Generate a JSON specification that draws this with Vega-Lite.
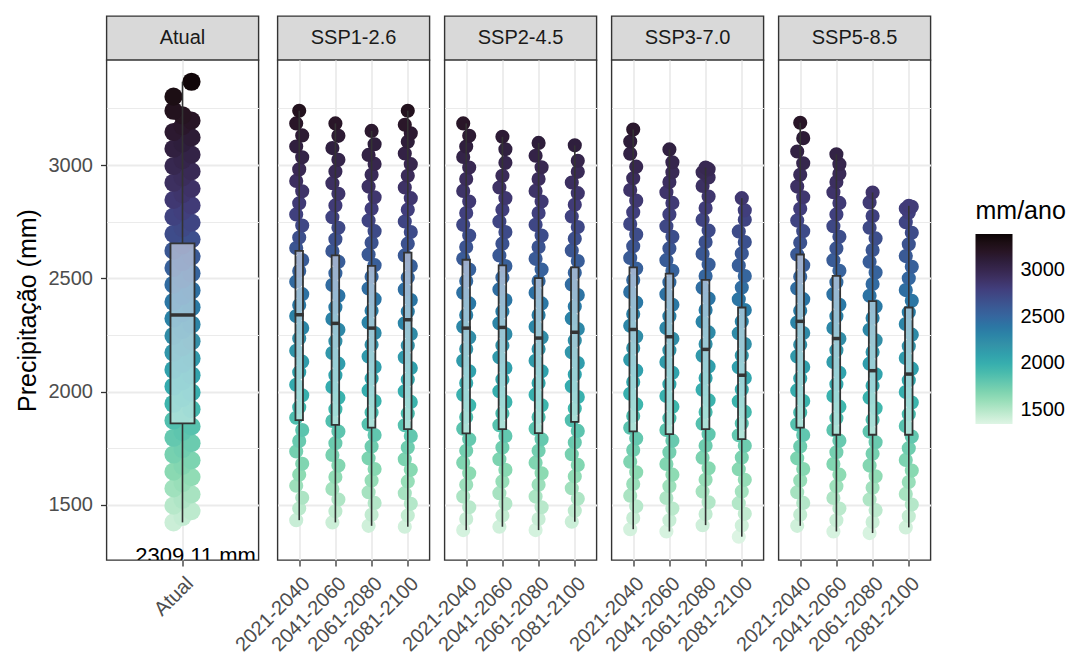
{
  "$schema": "https://vega.github.io/schema/vega-lite/v6.json",
  "background": "white",
  "padding": {"left": 13.5, "top": 15, "right": 2, "bottom": 0},
  "config": {
    "font": "Liberation Sans",
    "view": {"stroke": "#333333", "strokeWidth": 1.4, "fill": "white"}
  },
  "datasets": {
    "strips": [
      {"s": "Atual"}, {"s": "SSP1-2.6"}, {"s": "SSP2-4.5"}, {"s": "SSP3-7.0"}, {"s": "SSP5-8.5"}
    ],
    "box": [
      {"s": "Atual", "p": "Atual", "lo": 1422, "q1": 1859, "med": 2338, "q3": 2654, "hi": 3368},
      {"s": "SSP1-2.6", "p": "2021-2040", "lo": 1432, "q1": 1874, "med": 2339, "q3": 2621, "hi": 3240},
      {"s": "SSP1-2.6", "p": "2041-2060", "lo": 1422, "q1": 1853, "med": 2301, "q3": 2601, "hi": 3184},
      {"s": "SSP1-2.6", "p": "2061-2080", "lo": 1407, "q1": 1841, "med": 2280, "q3": 2555, "hi": 3151},
      {"s": "SSP1-2.6", "p": "2081-2100", "lo": 1403, "q1": 1834, "med": 2317, "q3": 2613, "hi": 3240},
      {"s": "SSP2-4.5", "p": "2021-2040", "lo": 1388, "q1": 1815, "med": 2280, "q3": 2582, "hi": 3184},
      {"s": "SSP2-4.5", "p": "2041-2060", "lo": 1403, "q1": 1834, "med": 2283, "q3": 2557, "hi": 3125},
      {"s": "SSP2-4.5", "p": "2061-2080", "lo": 1388, "q1": 1816, "med": 2236, "q3": 2501, "hi": 3098},
      {"s": "SSP2-4.5", "p": "2081-2100", "lo": 1425, "q1": 1866, "med": 2262, "q3": 2548, "hi": 3087},
      {"s": "SSP3-7.0", "p": "2021-2040", "lo": 1392, "q1": 1824, "med": 2274, "q3": 2548, "hi": 3157},
      {"s": "SSP3-7.0", "p": "2041-2060", "lo": 1382, "q1": 1812, "med": 2242, "q3": 2521, "hi": 3069},
      {"s": "SSP3-7.0", "p": "2061-2080", "lo": 1410, "q1": 1834, "med": 2186, "q3": 2493, "hi": 2989},
      {"s": "SSP3-7.0", "p": "2081-2100", "lo": 1359, "q1": 1790, "med": 2072, "q3": 2371, "hi": 2854},
      {"s": "SSP5-8.5", "p": "2021-2040", "lo": 1407, "q1": 1841, "med": 2310, "q3": 2605, "hi": 3187},
      {"s": "SSP5-8.5", "p": "2041-2060", "lo": 1382, "q1": 1809, "med": 2234, "q3": 2511, "hi": 3048},
      {"s": "SSP5-8.5", "p": "2061-2080", "lo": 1375, "q1": 1809, "med": 2092, "q3": 2399, "hi": 2879},
      {"s": "SSP5-8.5", "p": "2081-2100", "lo": 1400, "q1": 1809, "med": 2077, "q3": 2371, "hi": 2820}
    ],
    "atual": [
      {"p":"Atual","k":0,"v":1422},{"p":"Atual","k":1,"v":1446},{"p":"Atual","k":2,"v":1472},{"p":"Atual","k":0,"v":1496},{"p":"Atual","k":1,"v":1522},{"p":"Atual","k":2,"v":1546},{"p":"Atual","k":0,"v":1572},{"p":"Atual","k":1,"v":1596},{"p":"Atual","k":2,"v":1622},{"p":"Atual","k":0,"v":1646},{"p":"Atual","k":1,"v":1672},{"p":"Atual","k":2,"v":1696},{"p":"Atual","k":0,"v":1722},{"p":"Atual","k":1,"v":1746},{"p":"Atual","k":2,"v":1772},{"p":"Atual","k":0,"v":1796},{"p":"Atual","k":1,"v":1822},{"p":"Atual","k":2,"v":1846},{"p":"Atual","k":0,"v":1872},{"p":"Atual","k":1,"v":1896},{"p":"Atual","k":2,"v":1922},{"p":"Atual","k":0,"v":1946},{"p":"Atual","k":1,"v":1972},{"p":"Atual","k":2,"v":1996},{"p":"Atual","k":0,"v":2022},{"p":"Atual","k":1,"v":2046},{"p":"Atual","k":2,"v":2072},{"p":"Atual","k":0,"v":2096},{"p":"Atual","k":1,"v":2122},{"p":"Atual","k":2,"v":2146},{"p":"Atual","k":0,"v":2172},{"p":"Atual","k":1,"v":2196},{"p":"Atual","k":2,"v":2222},{"p":"Atual","k":0,"v":2246},{"p":"Atual","k":1,"v":2272},{"p":"Atual","k":2,"v":2296},{"p":"Atual","k":0,"v":2322},{"p":"Atual","k":1,"v":2346},{"p":"Atual","k":2,"v":2372},{"p":"Atual","k":0,"v":2396},{"p":"Atual","k":1,"v":2422},{"p":"Atual","k":2,"v":2446},{"p":"Atual","k":0,"v":2472},{"p":"Atual","k":1,"v":2496},{"p":"Atual","k":2,"v":2522},{"p":"Atual","k":0,"v":2546},{"p":"Atual","k":1,"v":2572},{"p":"Atual","k":2,"v":2596},{"p":"Atual","k":0,"v":2622},{"p":"Atual","k":1,"v":2646},{"p":"Atual","k":2,"v":2672},{"p":"Atual","k":0,"v":2696},{"p":"Atual","k":1,"v":2722},{"p":"Atual","k":2,"v":2746},{"p":"Atual","k":0,"v":2772},{"p":"Atual","k":1,"v":2796},{"p":"Atual","k":2,"v":2822},{"p":"Atual","k":0,"v":2846},{"p":"Atual","k":1,"v":2872},{"p":"Atual","k":2,"v":2896},{"p":"Atual","k":0,"v":2922},{"p":"Atual","k":1,"v":2946},{"p":"Atual","k":2,"v":2972},{"p":"Atual","k":0,"v":2996},{"p":"Atual","k":1,"v":3022},{"p":"Atual","k":2,"v":3046},{"p":"Atual","k":0,"v":3072},{"p":"Atual","k":1,"v":3096},{"p":"Atual","k":2,"v":3122},{"p":"Atual","k":0,"v":3146},{"p":"Atual","k":1,"v":3172},{"p":"Atual","k":2,"v":3196},{"p":"Atual","k":1,"v":3220},{"p":"Atual","k":0,"v":3240},{"p":"Atual","k":0,"v":3302},{"p":"Atual","k":2,"v":3368}
    ],
    "ssp126": [
      {"p":"2021-2040","k":0,"v":1432},{"p":"2021-2040","k":1,"v":1483},{"p":"2021-2040","k":2,"v":1531},{"p":"2021-2040","k":0,"v":1584},{"p":"2021-2040","k":1,"v":1633},{"p":"2021-2040","k":2,"v":1681},{"p":"2021-2040","k":0,"v":1735},{"p":"2021-2040","k":1,"v":1782},{"p":"2021-2040","k":2,"v":1830},{"p":"2021-2040","k":0,"v":1884},{"p":"2021-2040","k":1,"v":1931},{"p":"2021-2040","k":2,"v":1983},{"p":"2021-2040","k":0,"v":2030},{"p":"2021-2040","k":1,"v":2085},{"p":"2021-2040","k":2,"v":2132},{"p":"2021-2040","k":0,"v":2180},{"p":"2021-2040","k":1,"v":2234},{"p":"2021-2040","k":2,"v":2281},{"p":"2021-2040","k":0,"v":2333},{"p":"2021-2040","k":1,"v":2382},{"p":"2021-2040","k":2,"v":2430},{"p":"2021-2040","k":0,"v":2485},{"p":"2021-2040","k":1,"v":2532},{"p":"2021-2040","k":2,"v":2581},{"p":"2021-2040","k":0,"v":2634},{"p":"2021-2040","k":1,"v":2680},{"p":"2021-2040","k":2,"v":2733},{"p":"2021-2040","k":0,"v":2782},{"p":"2021-2040","k":1,"v":2831},{"p":"2021-2040","k":2,"v":2884},{"p":"2021-2040","k":0,"v":2930},{"p":"2021-2040","k":1,"v":2981},{"p":"2021-2040","k":2,"v":3034},{"p":"2021-2040","k":0,"v":3082},{"p":"2021-2040","k":2,"v":3131},{"p":"2021-2040","k":0,"v":3184},{"p":"2021-2040","k":1,"v":3240},
      {"p":"2041-2060","k":0,"v":1422},{"p":"2041-2060","k":1,"v":1471},{"p":"2041-2060","k":2,"v":1523},{"p":"2041-2060","k":0,"v":1570},{"p":"2041-2060","k":1,"v":1622},{"p":"2041-2060","k":2,"v":1673},{"p":"2041-2060","k":0,"v":1720},{"p":"2041-2060","k":1,"v":1772},{"p":"2041-2060","k":2,"v":1823},{"p":"2041-2060","k":0,"v":1870},{"p":"2041-2060","k":1,"v":1922},{"p":"2041-2060","k":2,"v":1973},{"p":"2041-2060","k":0,"v":2020},{"p":"2041-2060","k":1,"v":2072},{"p":"2041-2060","k":2,"v":2123},{"p":"2041-2060","k":0,"v":2170},{"p":"2041-2060","k":1,"v":2222},{"p":"2041-2060","k":2,"v":2273},{"p":"2041-2060","k":0,"v":2320},{"p":"2041-2060","k":1,"v":2372},{"p":"2041-2060","k":2,"v":2423},{"p":"2041-2060","k":0,"v":2470},{"p":"2041-2060","k":1,"v":2522},{"p":"2041-2060","k":2,"v":2573},{"p":"2041-2060","k":0,"v":2620},{"p":"2041-2060","k":1,"v":2672},{"p":"2041-2060","k":2,"v":2723},{"p":"2041-2060","k":0,"v":2770},{"p":"2041-2060","k":1,"v":2822},{"p":"2041-2060","k":2,"v":2873},{"p":"2041-2060","k":0,"v":2920},{"p":"2041-2060","k":1,"v":2972},{"p":"2041-2060","k":2,"v":3023},{"p":"2041-2060","k":0,"v":3075},{"p":"2041-2060","k":2,"v":3129},{"p":"2041-2060","k":1,"v":3184},
      {"p":"2061-2080","k":0,"v":1407},{"p":"2061-2080","k":1,"v":1456},{"p":"2061-2080","k":2,"v":1508},{"p":"2061-2080","k":0,"v":1555},{"p":"2061-2080","k":1,"v":1607},{"p":"2061-2080","k":2,"v":1658},{"p":"2061-2080","k":0,"v":1705},{"p":"2061-2080","k":1,"v":1757},{"p":"2061-2080","k":2,"v":1808},{"p":"2061-2080","k":0,"v":1855},{"p":"2061-2080","k":1,"v":1907},{"p":"2061-2080","k":2,"v":1958},{"p":"2061-2080","k":0,"v":2005},{"p":"2061-2080","k":1,"v":2057},{"p":"2061-2080","k":2,"v":2108},{"p":"2061-2080","k":0,"v":2155},{"p":"2061-2080","k":1,"v":2207},{"p":"2061-2080","k":2,"v":2258},{"p":"2061-2080","k":0,"v":2305},{"p":"2061-2080","k":1,"v":2357},{"p":"2061-2080","k":2,"v":2408},{"p":"2061-2080","k":0,"v":2455},{"p":"2061-2080","k":1,"v":2507},{"p":"2061-2080","k":2,"v":2558},{"p":"2061-2080","k":0,"v":2605},{"p":"2061-2080","k":1,"v":2657},{"p":"2061-2080","k":2,"v":2708},{"p":"2061-2080","k":0,"v":2755},{"p":"2061-2080","k":1,"v":2807},{"p":"2061-2080","k":2,"v":2858},{"p":"2061-2080","k":0,"v":2905},{"p":"2061-2080","k":1,"v":2957},{"p":"2061-2080","k":2,"v":3005},{"p":"2061-2080","k":0,"v":3045},{"p":"2061-2080","k":2,"v":3092},{"p":"2061-2080","k":1,"v":3151},
      {"p":"2081-2100","k":0,"v":1403},{"p":"2081-2100","k":1,"v":1452},{"p":"2081-2100","k":2,"v":1504},{"p":"2081-2100","k":0,"v":1551},{"p":"2081-2100","k":1,"v":1603},{"p":"2081-2100","k":2,"v":1654},{"p":"2081-2100","k":0,"v":1701},{"p":"2081-2100","k":1,"v":1753},{"p":"2081-2100","k":2,"v":1804},{"p":"2081-2100","k":0,"v":1851},{"p":"2081-2100","k":1,"v":1903},{"p":"2081-2100","k":2,"v":1954},{"p":"2081-2100","k":0,"v":2001},{"p":"2081-2100","k":1,"v":2053},{"p":"2081-2100","k":2,"v":2104},{"p":"2081-2100","k":0,"v":2151},{"p":"2081-2100","k":1,"v":2203},{"p":"2081-2100","k":2,"v":2254},{"p":"2081-2100","k":0,"v":2301},{"p":"2081-2100","k":1,"v":2353},{"p":"2081-2100","k":2,"v":2404},{"p":"2081-2100","k":0,"v":2451},{"p":"2081-2100","k":1,"v":2503},{"p":"2081-2100","k":2,"v":2554},{"p":"2081-2100","k":0,"v":2601},{"p":"2081-2100","k":1,"v":2653},{"p":"2081-2100","k":2,"v":2704},{"p":"2081-2100","k":0,"v":2751},{"p":"2081-2100","k":1,"v":2803},{"p":"2081-2100","k":2,"v":2854},{"p":"2081-2100","k":0,"v":2901},{"p":"2081-2100","k":1,"v":2953},{"p":"2081-2100","k":2,"v":3004},{"p":"2081-2100","k":0,"v":3051},{"p":"2081-2100","k":1,"v":3103},{"p":"2081-2100","k":2,"v":3140},{"p":"2081-2100","k":0,"v":3178},{"p":"2081-2100","k":1,"v":3240}
    ],
    "ssp245": [
      {"p":"2021-2040","k":0,"v":1388},{"p":"2021-2040","k":1,"v":1437},{"p":"2021-2040","k":2,"v":1489},{"p":"2021-2040","k":0,"v":1536},{"p":"2021-2040","k":1,"v":1588},{"p":"2021-2040","k":2,"v":1639},{"p":"2021-2040","k":0,"v":1686},{"p":"2021-2040","k":1,"v":1738},{"p":"2021-2040","k":2,"v":1789},{"p":"2021-2040","k":0,"v":1836},{"p":"2021-2040","k":1,"v":1888},{"p":"2021-2040","k":2,"v":1939},{"p":"2021-2040","k":0,"v":1986},{"p":"2021-2040","k":1,"v":2038},{"p":"2021-2040","k":2,"v":2089},{"p":"2021-2040","k":0,"v":2136},{"p":"2021-2040","k":1,"v":2188},{"p":"2021-2040","k":2,"v":2239},{"p":"2021-2040","k":0,"v":2286},{"p":"2021-2040","k":1,"v":2338},{"p":"2021-2040","k":2,"v":2389},{"p":"2021-2040","k":0,"v":2436},{"p":"2021-2040","k":1,"v":2488},{"p":"2021-2040","k":2,"v":2539},{"p":"2021-2040","k":0,"v":2586},{"p":"2021-2040","k":1,"v":2638},{"p":"2021-2040","k":2,"v":2689},{"p":"2021-2040","k":0,"v":2736},{"p":"2021-2040","k":1,"v":2788},{"p":"2021-2040","k":2,"v":2839},{"p":"2021-2040","k":0,"v":2886},{"p":"2021-2040","k":1,"v":2938},{"p":"2021-2040","k":2,"v":2989},{"p":"2021-2040","k":0,"v":3036},{"p":"2021-2040","k":1,"v":3082},{"p":"2021-2040","k":2,"v":3129},{"p":"2021-2040","k":0,"v":3184},
      {"p":"2041-2060","k":0,"v":1403},{"p":"2041-2060","k":1,"v":1452},{"p":"2041-2060","k":2,"v":1504},{"p":"2041-2060","k":0,"v":1551},{"p":"2041-2060","k":1,"v":1603},{"p":"2041-2060","k":2,"v":1654},{"p":"2041-2060","k":0,"v":1701},{"p":"2041-2060","k":1,"v":1753},{"p":"2041-2060","k":2,"v":1804},{"p":"2041-2060","k":0,"v":1851},{"p":"2041-2060","k":1,"v":1903},{"p":"2041-2060","k":2,"v":1954},{"p":"2041-2060","k":0,"v":2001},{"p":"2041-2060","k":1,"v":2053},{"p":"2041-2060","k":2,"v":2104},{"p":"2041-2060","k":0,"v":2151},{"p":"2041-2060","k":1,"v":2203},{"p":"2041-2060","k":2,"v":2254},{"p":"2041-2060","k":0,"v":2301},{"p":"2041-2060","k":1,"v":2353},{"p":"2041-2060","k":2,"v":2404},{"p":"2041-2060","k":0,"v":2451},{"p":"2041-2060","k":1,"v":2503},{"p":"2041-2060","k":2,"v":2554},{"p":"2041-2060","k":0,"v":2601},{"p":"2041-2060","k":1,"v":2653},{"p":"2041-2060","k":2,"v":2704},{"p":"2041-2060","k":0,"v":2751},{"p":"2041-2060","k":1,"v":2803},{"p":"2041-2060","k":2,"v":2854},{"p":"2041-2060","k":0,"v":2901},{"p":"2041-2060","k":1,"v":2953},{"p":"2041-2060","k":2,"v":3010},{"p":"2041-2060","k":2,"v":3070},{"p":"2041-2060","k":1,"v":3125},
      {"p":"2061-2080","k":0,"v":1388},{"p":"2061-2080","k":1,"v":1437},{"p":"2061-2080","k":2,"v":1489},{"p":"2061-2080","k":0,"v":1536},{"p":"2061-2080","k":1,"v":1588},{"p":"2061-2080","k":2,"v":1639},{"p":"2061-2080","k":0,"v":1686},{"p":"2061-2080","k":1,"v":1738},{"p":"2061-2080","k":2,"v":1789},{"p":"2061-2080","k":0,"v":1836},{"p":"2061-2080","k":1,"v":1888},{"p":"2061-2080","k":2,"v":1939},{"p":"2061-2080","k":0,"v":1986},{"p":"2061-2080","k":1,"v":2038},{"p":"2061-2080","k":2,"v":2089},{"p":"2061-2080","k":0,"v":2136},{"p":"2061-2080","k":1,"v":2188},{"p":"2061-2080","k":2,"v":2239},{"p":"2061-2080","k":0,"v":2286},{"p":"2061-2080","k":1,"v":2338},{"p":"2061-2080","k":2,"v":2389},{"p":"2061-2080","k":0,"v":2436},{"p":"2061-2080","k":1,"v":2488},{"p":"2061-2080","k":2,"v":2539},{"p":"2061-2080","k":0,"v":2586},{"p":"2061-2080","k":1,"v":2638},{"p":"2061-2080","k":2,"v":2689},{"p":"2061-2080","k":0,"v":2736},{"p":"2061-2080","k":1,"v":2788},{"p":"2061-2080","k":2,"v":2839},{"p":"2061-2080","k":0,"v":2886},{"p":"2061-2080","k":1,"v":2938},{"p":"2061-2080","k":2,"v":2990},{"p":"2061-2080","k":0,"v":3041},{"p":"2061-2080","k":1,"v":3098},
      {"p":"2081-2100","k":0,"v":1425},{"p":"2081-2100","k":1,"v":1474},{"p":"2081-2100","k":2,"v":1526},{"p":"2081-2100","k":0,"v":1573},{"p":"2081-2100","k":1,"v":1625},{"p":"2081-2100","k":2,"v":1676},{"p":"2081-2100","k":0,"v":1723},{"p":"2081-2100","k":1,"v":1775},{"p":"2081-2100","k":2,"v":1826},{"p":"2081-2100","k":0,"v":1873},{"p":"2081-2100","k":1,"v":1925},{"p":"2081-2100","k":2,"v":1976},{"p":"2081-2100","k":0,"v":2023},{"p":"2081-2100","k":1,"v":2075},{"p":"2081-2100","k":2,"v":2126},{"p":"2081-2100","k":0,"v":2173},{"p":"2081-2100","k":1,"v":2225},{"p":"2081-2100","k":2,"v":2276},{"p":"2081-2100","k":0,"v":2323},{"p":"2081-2100","k":1,"v":2375},{"p":"2081-2100","k":2,"v":2426},{"p":"2081-2100","k":0,"v":2473},{"p":"2081-2100","k":1,"v":2525},{"p":"2081-2100","k":2,"v":2576},{"p":"2081-2100","k":0,"v":2623},{"p":"2081-2100","k":1,"v":2675},{"p":"2081-2100","k":2,"v":2726},{"p":"2081-2100","k":0,"v":2773},{"p":"2081-2100","k":1,"v":2825},{"p":"2081-2100","k":2,"v":2876},{"p":"2081-2100","k":0,"v":2923},{"p":"2081-2100","k":2,"v":2970},{"p":"2081-2100","k":2,"v":3019},{"p":"2081-2100","k":1,"v":3087}
    ],
    "ssp370": [
      {"p":"2021-2040","k":0,"v":1392},{"p":"2021-2040","k":1,"v":1441},{"p":"2021-2040","k":2,"v":1493},{"p":"2021-2040","k":0,"v":1540},{"p":"2021-2040","k":1,"v":1592},{"p":"2021-2040","k":2,"v":1643},{"p":"2021-2040","k":0,"v":1690},{"p":"2021-2040","k":1,"v":1742},{"p":"2021-2040","k":2,"v":1793},{"p":"2021-2040","k":0,"v":1840},{"p":"2021-2040","k":1,"v":1892},{"p":"2021-2040","k":2,"v":1943},{"p":"2021-2040","k":0,"v":1990},{"p":"2021-2040","k":1,"v":2042},{"p":"2021-2040","k":2,"v":2093},{"p":"2021-2040","k":0,"v":2140},{"p":"2021-2040","k":1,"v":2192},{"p":"2021-2040","k":2,"v":2243},{"p":"2021-2040","k":0,"v":2290},{"p":"2021-2040","k":1,"v":2342},{"p":"2021-2040","k":2,"v":2393},{"p":"2021-2040","k":0,"v":2440},{"p":"2021-2040","k":1,"v":2492},{"p":"2021-2040","k":2,"v":2543},{"p":"2021-2040","k":0,"v":2590},{"p":"2021-2040","k":1,"v":2642},{"p":"2021-2040","k":2,"v":2693},{"p":"2021-2040","k":0,"v":2740},{"p":"2021-2040","k":1,"v":2792},{"p":"2021-2040","k":2,"v":2843},{"p":"2021-2040","k":0,"v":2890},{"p":"2021-2040","k":1,"v":2942},{"p":"2021-2040","k":2,"v":2993},{"p":"2021-2040","k":0,"v":3050},{"p":"2021-2040","k":0,"v":3104},{"p":"2021-2040","k":1,"v":3157},
      {"p":"2041-2060","k":0,"v":1382},{"p":"2041-2060","k":1,"v":1431},{"p":"2041-2060","k":2,"v":1483},{"p":"2041-2060","k":0,"v":1530},{"p":"2041-2060","k":1,"v":1582},{"p":"2041-2060","k":2,"v":1633},{"p":"2041-2060","k":0,"v":1680},{"p":"2041-2060","k":1,"v":1732},{"p":"2041-2060","k":2,"v":1783},{"p":"2041-2060","k":0,"v":1830},{"p":"2041-2060","k":1,"v":1882},{"p":"2041-2060","k":2,"v":1933},{"p":"2041-2060","k":0,"v":1980},{"p":"2041-2060","k":1,"v":2032},{"p":"2041-2060","k":2,"v":2083},{"p":"2041-2060","k":0,"v":2130},{"p":"2041-2060","k":1,"v":2182},{"p":"2041-2060","k":2,"v":2233},{"p":"2041-2060","k":0,"v":2280},{"p":"2041-2060","k":1,"v":2332},{"p":"2041-2060","k":2,"v":2383},{"p":"2041-2060","k":0,"v":2430},{"p":"2041-2060","k":1,"v":2482},{"p":"2041-2060","k":2,"v":2533},{"p":"2041-2060","k":0,"v":2580},{"p":"2041-2060","k":1,"v":2632},{"p":"2041-2060","k":2,"v":2683},{"p":"2041-2060","k":0,"v":2730},{"p":"2041-2060","k":1,"v":2782},{"p":"2041-2060","k":2,"v":2833},{"p":"2041-2060","k":0,"v":2880},{"p":"2041-2060","k":1,"v":2925},{"p":"2041-2060","k":2,"v":2968},{"p":"2041-2060","k":2,"v":3012},{"p":"2041-2060","k":1,"v":3069},
      {"p":"2061-2080","k":0,"v":1410},{"p":"2061-2080","k":1,"v":1459},{"p":"2061-2080","k":2,"v":1511},{"p":"2061-2080","k":0,"v":1558},{"p":"2061-2080","k":1,"v":1610},{"p":"2061-2080","k":2,"v":1661},{"p":"2061-2080","k":0,"v":1708},{"p":"2061-2080","k":1,"v":1760},{"p":"2061-2080","k":2,"v":1811},{"p":"2061-2080","k":0,"v":1858},{"p":"2061-2080","k":1,"v":1910},{"p":"2061-2080","k":2,"v":1961},{"p":"2061-2080","k":0,"v":2008},{"p":"2061-2080","k":1,"v":2060},{"p":"2061-2080","k":2,"v":2111},{"p":"2061-2080","k":0,"v":2158},{"p":"2061-2080","k":1,"v":2210},{"p":"2061-2080","k":2,"v":2261},{"p":"2061-2080","k":0,"v":2308},{"p":"2061-2080","k":1,"v":2360},{"p":"2061-2080","k":2,"v":2411},{"p":"2061-2080","k":0,"v":2458},{"p":"2061-2080","k":1,"v":2510},{"p":"2061-2080","k":2,"v":2561},{"p":"2061-2080","k":0,"v":2608},{"p":"2061-2080","k":1,"v":2660},{"p":"2061-2080","k":2,"v":2711},{"p":"2061-2080","k":0,"v":2758},{"p":"2061-2080","k":1,"v":2810},{"p":"2061-2080","k":2,"v":2861},{"p":"2061-2080","k":0,"v":2908},{"p":"2061-2080","k":2,"v":2945},{"p":"2061-2080","k":0,"v":2968},{"p":"2061-2080","k":2,"v":2982},{"p":"2061-2080","k":1,"v":2989},
      {"p":"2081-2100","k":0,"v":1359},{"p":"2081-2100","k":1,"v":1408},{"p":"2081-2100","k":2,"v":1460},{"p":"2081-2100","k":0,"v":1507},{"p":"2081-2100","k":1,"v":1559},{"p":"2081-2100","k":2,"v":1610},{"p":"2081-2100","k":0,"v":1657},{"p":"2081-2100","k":1,"v":1709},{"p":"2081-2100","k":2,"v":1760},{"p":"2081-2100","k":0,"v":1807},{"p":"2081-2100","k":1,"v":1859},{"p":"2081-2100","k":2,"v":1910},{"p":"2081-2100","k":0,"v":1957},{"p":"2081-2100","k":1,"v":2009},{"p":"2081-2100","k":2,"v":2060},{"p":"2081-2100","k":0,"v":2107},{"p":"2081-2100","k":1,"v":2159},{"p":"2081-2100","k":2,"v":2210},{"p":"2081-2100","k":0,"v":2257},{"p":"2081-2100","k":1,"v":2309},{"p":"2081-2100","k":2,"v":2360},{"p":"2081-2100","k":0,"v":2407},{"p":"2081-2100","k":1,"v":2459},{"p":"2081-2100","k":2,"v":2510},{"p":"2081-2100","k":0,"v":2557},{"p":"2081-2100","k":1,"v":2609},{"p":"2081-2100","k":2,"v":2660},{"p":"2081-2100","k":0,"v":2707},{"p":"2081-2100","k":2,"v":2759},{"p":"2081-2100","k":2,"v":2800},{"p":"2081-2100","k":1,"v":2854}
    ],
    "ssp585": [
      {"p":"2021-2040","k":0,"v":1407},{"p":"2021-2040","k":1,"v":1456},{"p":"2021-2040","k":2,"v":1508},{"p":"2021-2040","k":0,"v":1555},{"p":"2021-2040","k":1,"v":1607},{"p":"2021-2040","k":2,"v":1658},{"p":"2021-2040","k":0,"v":1705},{"p":"2021-2040","k":1,"v":1757},{"p":"2021-2040","k":2,"v":1808},{"p":"2021-2040","k":0,"v":1855},{"p":"2021-2040","k":1,"v":1907},{"p":"2021-2040","k":2,"v":1958},{"p":"2021-2040","k":0,"v":2005},{"p":"2021-2040","k":1,"v":2057},{"p":"2021-2040","k":2,"v":2108},{"p":"2021-2040","k":0,"v":2155},{"p":"2021-2040","k":1,"v":2207},{"p":"2021-2040","k":2,"v":2258},{"p":"2021-2040","k":0,"v":2305},{"p":"2021-2040","k":1,"v":2357},{"p":"2021-2040","k":2,"v":2408},{"p":"2021-2040","k":0,"v":2455},{"p":"2021-2040","k":1,"v":2507},{"p":"2021-2040","k":2,"v":2558},{"p":"2021-2040","k":0,"v":2605},{"p":"2021-2040","k":1,"v":2657},{"p":"2021-2040","k":2,"v":2708},{"p":"2021-2040","k":0,"v":2755},{"p":"2021-2040","k":1,"v":2807},{"p":"2021-2040","k":2,"v":2858},{"p":"2021-2040","k":0,"v":2905},{"p":"2021-2040","k":1,"v":2957},{"p":"2021-2040","k":2,"v":3008},{"p":"2021-2040","k":0,"v":3060},{"p":"2021-2040","k":2,"v":3119},{"p":"2021-2040","k":1,"v":3187},
      {"p":"2041-2060","k":0,"v":1382},{"p":"2041-2060","k":1,"v":1431},{"p":"2041-2060","k":2,"v":1483},{"p":"2041-2060","k":0,"v":1530},{"p":"2041-2060","k":1,"v":1582},{"p":"2041-2060","k":2,"v":1633},{"p":"2041-2060","k":0,"v":1680},{"p":"2041-2060","k":1,"v":1732},{"p":"2041-2060","k":2,"v":1783},{"p":"2041-2060","k":0,"v":1830},{"p":"2041-2060","k":1,"v":1882},{"p":"2041-2060","k":2,"v":1933},{"p":"2041-2060","k":0,"v":1980},{"p":"2041-2060","k":1,"v":2032},{"p":"2041-2060","k":2,"v":2083},{"p":"2041-2060","k":0,"v":2130},{"p":"2041-2060","k":1,"v":2182},{"p":"2041-2060","k":2,"v":2233},{"p":"2041-2060","k":0,"v":2280},{"p":"2041-2060","k":1,"v":2332},{"p":"2041-2060","k":2,"v":2383},{"p":"2041-2060","k":0,"v":2430},{"p":"2041-2060","k":1,"v":2482},{"p":"2041-2060","k":2,"v":2533},{"p":"2041-2060","k":0,"v":2580},{"p":"2041-2060","k":1,"v":2632},{"p":"2041-2060","k":2,"v":2683},{"p":"2041-2060","k":0,"v":2730},{"p":"2041-2060","k":1,"v":2782},{"p":"2041-2060","k":2,"v":2833},{"p":"2041-2060","k":0,"v":2880},{"p":"2041-2060","k":1,"v":2925},{"p":"2041-2060","k":2,"v":2962},{"p":"2041-2060","k":2,"v":3004},{"p":"2041-2060","k":1,"v":3048},
      {"p":"2061-2080","k":0,"v":1375},{"p":"2061-2080","k":1,"v":1424},{"p":"2061-2080","k":2,"v":1476},{"p":"2061-2080","k":0,"v":1523},{"p":"2061-2080","k":1,"v":1575},{"p":"2061-2080","k":2,"v":1626},{"p":"2061-2080","k":0,"v":1673},{"p":"2061-2080","k":1,"v":1725},{"p":"2061-2080","k":2,"v":1776},{"p":"2061-2080","k":0,"v":1823},{"p":"2061-2080","k":1,"v":1875},{"p":"2061-2080","k":2,"v":1926},{"p":"2061-2080","k":0,"v":1973},{"p":"2061-2080","k":1,"v":2025},{"p":"2061-2080","k":2,"v":2076},{"p":"2061-2080","k":0,"v":2123},{"p":"2061-2080","k":1,"v":2175},{"p":"2061-2080","k":2,"v":2226},{"p":"2061-2080","k":0,"v":2273},{"p":"2061-2080","k":1,"v":2325},{"p":"2061-2080","k":2,"v":2376},{"p":"2061-2080","k":0,"v":2423},{"p":"2061-2080","k":1,"v":2475},{"p":"2061-2080","k":2,"v":2526},{"p":"2061-2080","k":0,"v":2573},{"p":"2061-2080","k":1,"v":2625},{"p":"2061-2080","k":2,"v":2676},{"p":"2061-2080","k":0,"v":2723},{"p":"2061-2080","k":1,"v":2775},{"p":"2061-2080","k":0,"v":2835},{"p":"2061-2080","k":1,"v":2879},
      {"p":"2081-2100","k":0,"v":1400},{"p":"2081-2100","k":1,"v":1449},{"p":"2081-2100","k":2,"v":1501},{"p":"2081-2100","k":0,"v":1548},{"p":"2081-2100","k":1,"v":1600},{"p":"2081-2100","k":2,"v":1651},{"p":"2081-2100","k":0,"v":1698},{"p":"2081-2100","k":1,"v":1750},{"p":"2081-2100","k":2,"v":1801},{"p":"2081-2100","k":0,"v":1848},{"p":"2081-2100","k":1,"v":1900},{"p":"2081-2100","k":2,"v":1951},{"p":"2081-2100","k":0,"v":1998},{"p":"2081-2100","k":1,"v":2050},{"p":"2081-2100","k":2,"v":2101},{"p":"2081-2100","k":0,"v":2148},{"p":"2081-2100","k":1,"v":2200},{"p":"2081-2100","k":2,"v":2251},{"p":"2081-2100","k":0,"v":2298},{"p":"2081-2100","k":1,"v":2350},{"p":"2081-2100","k":2,"v":2401},{"p":"2081-2100","k":0,"v":2448},{"p":"2081-2100","k":1,"v":2500},{"p":"2081-2100","k":2,"v":2551},{"p":"2081-2100","k":0,"v":2598},{"p":"2081-2100","k":1,"v":2650},{"p":"2081-2100","k":2,"v":2701},{"p":"2081-2100","k":0,"v":2748},{"p":"2081-2100","k":1,"v":2790},{"p":"2081-2100","k":0,"v":2808},{"p":"2081-2100","k":2,"v":2816},{"p":"2081-2100","k":1,"v":2820}
    ]
  },
  "spacing": -29,
  "resolve": {"scale": {"color": "shared", "xOffset": "independent"}, "legend": {"color": "shared"}},
  "hconcat": [
    {
      "spacing": 0, "bounds": "flush",
      "vconcat": [
        {"width": 152, "height": 44, "view": {"fill": "#D9D9D9", "stroke": "#333333", "strokeWidth": 1.4},
         "data": {"name": "strips"}, "transform": [{"filter": "datum.s === 'Atual'"}],
         "mark": {"type": "text", "fontSize": 20, "color": "#1A1A1A"}, "encoding": {"text": {"field": "s"}}},
        {"width": 152, "height": 500,
         "layer": [
          {"data": {"name": "atual"}, "mark": {"type": "circle", "size": 330, "opacity": 1},
           "encoding": {
            "x": {"field": "p", "type": "nominal", "title": null, "scale": {"type": "point", "domain": ["Atual"], "padding": 0.6},
                  "axis": {"labelAngle": -45, "labelAlign": "right", "labelBaseline": "top", "labelFontSize": 20, "labelColor": "#4D4D4D", "labelPadding": 7, "tickColor": "#333333", "tickSize": 6, "tickWidth": 1.3, "domain": false, "grid": true, "gridColor": "#EBEBEB", "gridWidth": 1.8}},
            "xOffset": {"field": "k", "type": "quantitative", "scale": {"domain": [0, 2], "range": [-9, 9], "zero": false, "nice": false}},
            "y": {"field": "v", "type": "quantitative", "title": "Precipitação (mm)", "scale": {"domain": [1256, 3464], "nice": false, "zero": false},
                  "axis": {"values": [1500, 1750, 2000, 2250, 2500, 2750, 3000, 3250], "format": "d", "labelExpr": "datum.value % 500 === 0 ? datum.label : ''", "labelOverlap": false, "labelFlush": false, "domain": false, "grid": true, "gridColor": "#EBEBEB", "gridWidth": {"condition": {"test": "datum.value % 500 !== 0", "value": 1}, "value": 1.8}, "tickColor": "#333333", "tickWidth": 1.3, "tickSize": 6, "tickOpacity": {"condition": {"test": "datum.value % 500 !== 0", "value": 0}, "value": 1}, "labelColor": "#4D4D4D", "labelFontSize": 20, "labelPadding": 8, "titleFontSize": 25, "titleFontWeight": "normal", "titleColor": "#000000", "titlePadding": 8}},
            "color": {"field": "v", "type": "quantitative", "title": "mm/ano",
                      "scale": {"domain": [1350, 3390], "range": ["#DEF5E5", "#8BDAB2", "#40B7AD", "#348FA7", "#37659E", "#413D7B", "#2E1E3B", "#0B0405"], "nice": false, "zero": false},
                      "legend": {"orient": "none", "legendX": 869, "legendY": 183, "direction": "vertical", "gradientLength": 190, "gradientThickness": 37, "values": [1500, 2000, 2500, 3000], "format": "d", "labelFontSize": 20, "labelColor": "#000000", "labelOffset": 8, "titleFontSize": 25, "titleFontWeight": "normal", "titleColor": "#000000", "titlePadding": 10, "gradientStrokeWidth": 0, "labelOverlap": false}}
           }},
          {"data": {"name": "box"}, "transform": [{"filter": "datum.s === 'Atual'"}], "mark": {"type": "rule", "color": "#333333", "strokeWidth": 1.6},
           "encoding": {"x": {"field": "p", "type": "nominal", "title": null}, "y": {"field": "lo", "type": "quantitative", "title": "Precipitação (mm)"}, "y2": {"field": "q1"}}},
          {"data": {"name": "box"}, "transform": [{"filter": "datum.s === 'Atual'"}], "mark": {"type": "rule", "color": "#333333", "strokeWidth": 1.6},
           "encoding": {"x": {"field": "p", "type": "nominal", "title": null}, "y": {"field": "q3", "type": "quantitative", "title": "Precipitação (mm)"}, "y2": {"field": "hi"}}},
          {"data": {"name": "box"}, "transform": [{"filter": "datum.s === 'Atual'"}], "mark": {"type": "bar", "size": 24, "fill": "#FFFFFF", "fillOpacity": 0.5, "stroke": "#333333", "strokeWidth": 1.8},
           "encoding": {"x": {"field": "p", "type": "nominal", "title": null}, "y": {"field": "q1", "type": "quantitative", "title": "Precipitação (mm)"}, "y2": {"field": "q3"}}},
          {"data": {"name": "box"}, "transform": [{"filter": "datum.s === 'Atual'"}], "mark": {"type": "tick", "color": "#333333", "thickness": 3.5, "size": 25, "opacity": 1},
           "encoding": {"x": {"field": "p", "type": "nominal", "title": null}, "y": {"field": "med", "type": "quantitative", "title": "Precipitação (mm)"}}},
          {"data": {"values": [{"p": "Atual", "label": "2309.11 mm"}]}, "mark": {"type": "text", "fontSize": 22, "color": "#000000", "baseline": "alphabetic", "dx": 13, "clip": true},
           "encoding": {"x": {"field": "p", "type": "nominal", "title": null}, "y": {"datum": 1242, "type": "quantitative", "title": "Precipitação (mm)"}, "text": {"field": "label"}}}
         ]}
      ]
    },
    {
      "spacing": -33,
      "resolve": {"scale": {"color": "shared", "xOffset": "independent"}, "legend": {"color": "shared"}},
      "hconcat": [
    {
      "spacing": 0, "bounds": "flush",
      "vconcat": [
        {"width": 152, "height": 44, "view": {"fill": "#D9D9D9", "stroke": "#333333", "strokeWidth": 1.4},
         "data": {"name": "strips"}, "transform": [{"filter": "datum.s === 'SSP1-2.6'"}],
         "mark": {"type": "text", "fontSize": 20, "color": "#1A1A1A"}, "encoding": {"text": {"field": "s"}}},
        {"width": 152, "height": 500,
         "layer": [
          {"data": {"name": "ssp126"}, "mark": {"type": "circle", "size": 200, "opacity": 1},
           "encoding": {
            "x": {"field": "p", "type": "nominal", "title": null, "scale": {"type": "point", "domain": ["2021-2040", "2041-2060", "2061-2080", "2081-2100"], "padding": 0.6},
                  "axis": {"labelAngle": -45, "labelAlign": "right", "labelBaseline": "top", "labelFontSize": 20, "labelColor": "#4D4D4D", "labelPadding": 7, "tickColor": "#333333", "tickSize": 6, "tickWidth": 1.3, "domain": false, "grid": true, "gridColor": "#EBEBEB", "gridWidth": 1.8}},
            "xOffset": {"field": "k", "type": "quantitative", "scale": {"domain": [0, 2], "range": [-3, 3], "zero": false, "nice": false}},
            "y": {"field": "v", "type": "quantitative", "title": null, "scale": {"domain": [1256, 3464], "nice": false, "zero": false},
                  "axis": {"values": [1500, 1750, 2000, 2250, 2500, 2750, 3000, 3250], "labels": false, "ticks": false, "domain": false, "grid": true, "gridColor": "#EBEBEB", "gridWidth": {"condition": {"test": "datum.value % 500 !== 0", "value": 1}, "value": 1.8}}},
            "color": {"field": "v", "type": "quantitative", "title": "mm/ano",
                      "scale": {"domain": [1350, 3390], "range": ["#DEF5E5", "#8BDAB2", "#40B7AD", "#348FA7", "#37659E", "#413D7B", "#2E1E3B", "#0B0405"], "nice": false, "zero": false},
                      "legend": {"orient": "none", "legendX": 869, "legendY": 183, "direction": "vertical", "gradientLength": 190, "gradientThickness": 37, "values": [1500, 2000, 2500, 3000], "format": "d", "labelFontSize": 20, "labelColor": "#000000", "labelOffset": 8, "titleFontSize": 25, "titleFontWeight": "normal", "titleColor": "#000000", "titlePadding": 10, "gradientStrokeWidth": 0, "labelOverlap": false}}
           }},
          {"data": {"name": "box"}, "transform": [{"filter": "datum.s === 'SSP1-2.6'"}], "mark": {"type": "rule", "color": "#333333", "strokeWidth": 1.6},
           "encoding": {"x": {"field": "p", "type": "nominal", "title": null}, "y": {"field": "lo", "type": "quantitative", "title": null}, "y2": {"field": "q1"}}},
          {"data": {"name": "box"}, "transform": [{"filter": "datum.s === 'SSP1-2.6'"}], "mark": {"type": "rule", "color": "#333333", "strokeWidth": 1.6},
           "encoding": {"x": {"field": "p", "type": "nominal", "title": null}, "y": {"field": "q3", "type": "quantitative", "title": null}, "y2": {"field": "hi"}}},
          {"data": {"name": "box"}, "transform": [{"filter": "datum.s === 'SSP1-2.6'"}], "mark": {"type": "bar", "size": 7.5, "fill": "#FFFFFF", "fillOpacity": 0.5, "stroke": "#333333", "strokeWidth": 1.8},
           "encoding": {"x": {"field": "p", "type": "nominal", "title": null}, "y": {"field": "q1", "type": "quantitative", "title": null}, "y2": {"field": "q3"}}},
          {"data": {"name": "box"}, "transform": [{"filter": "datum.s === 'SSP1-2.6'"}], "mark": {"type": "tick", "color": "#333333", "thickness": 3.5, "size": 9, "opacity": 1},
           "encoding": {"x": {"field": "p", "type": "nominal", "title": null}, "y": {"field": "med", "type": "quantitative", "title": null}}}
         ]}
      ]
    },
    {
      "spacing": 0, "bounds": "flush",
      "vconcat": [
        {"width": 152, "height": 44, "view": {"fill": "#D9D9D9", "stroke": "#333333", "strokeWidth": 1.4},
         "data": {"name": "strips"}, "transform": [{"filter": "datum.s === 'SSP2-4.5'"}],
         "mark": {"type": "text", "fontSize": 20, "color": "#1A1A1A"}, "encoding": {"text": {"field": "s"}}},
        {"width": 152, "height": 500,
         "layer": [
          {"data": {"name": "ssp245"}, "mark": {"type": "circle", "size": 200, "opacity": 1},
           "encoding": {
            "x": {"field": "p", "type": "nominal", "title": null, "scale": {"type": "point", "domain": ["2021-2040", "2041-2060", "2061-2080", "2081-2100"], "padding": 0.6},
                  "axis": {"labelAngle": -45, "labelAlign": "right", "labelBaseline": "top", "labelFontSize": 20, "labelColor": "#4D4D4D", "labelPadding": 7, "tickColor": "#333333", "tickSize": 6, "tickWidth": 1.3, "domain": false, "grid": true, "gridColor": "#EBEBEB", "gridWidth": 1.8}},
            "xOffset": {"field": "k", "type": "quantitative", "scale": {"domain": [0, 2], "range": [-3, 3], "zero": false, "nice": false}},
            "y": {"field": "v", "type": "quantitative", "title": null, "scale": {"domain": [1256, 3464], "nice": false, "zero": false},
                  "axis": {"values": [1500, 1750, 2000, 2250, 2500, 2750, 3000, 3250], "labels": false, "ticks": false, "domain": false, "grid": true, "gridColor": "#EBEBEB", "gridWidth": {"condition": {"test": "datum.value % 500 !== 0", "value": 1}, "value": 1.8}}},
            "color": {"field": "v", "type": "quantitative", "title": "mm/ano",
                      "scale": {"domain": [1350, 3390], "range": ["#DEF5E5", "#8BDAB2", "#40B7AD", "#348FA7", "#37659E", "#413D7B", "#2E1E3B", "#0B0405"], "nice": false, "zero": false},
                      "legend": {"orient": "none", "legendX": 869, "legendY": 183, "direction": "vertical", "gradientLength": 190, "gradientThickness": 37, "values": [1500, 2000, 2500, 3000], "format": "d", "labelFontSize": 20, "labelColor": "#000000", "labelOffset": 8, "titleFontSize": 25, "titleFontWeight": "normal", "titleColor": "#000000", "titlePadding": 10, "gradientStrokeWidth": 0, "labelOverlap": false}}
           }},
          {"data": {"name": "box"}, "transform": [{"filter": "datum.s === 'SSP2-4.5'"}], "mark": {"type": "rule", "color": "#333333", "strokeWidth": 1.6},
           "encoding": {"x": {"field": "p", "type": "nominal", "title": null}, "y": {"field": "lo", "type": "quantitative", "title": null}, "y2": {"field": "q1"}}},
          {"data": {"name": "box"}, "transform": [{"filter": "datum.s === 'SSP2-4.5'"}], "mark": {"type": "rule", "color": "#333333", "strokeWidth": 1.6},
           "encoding": {"x": {"field": "p", "type": "nominal", "title": null}, "y": {"field": "q3", "type": "quantitative", "title": null}, "y2": {"field": "hi"}}},
          {"data": {"name": "box"}, "transform": [{"filter": "datum.s === 'SSP2-4.5'"}], "mark": {"type": "bar", "size": 7.5, "fill": "#FFFFFF", "fillOpacity": 0.5, "stroke": "#333333", "strokeWidth": 1.8},
           "encoding": {"x": {"field": "p", "type": "nominal", "title": null}, "y": {"field": "q1", "type": "quantitative", "title": null}, "y2": {"field": "q3"}}},
          {"data": {"name": "box"}, "transform": [{"filter": "datum.s === 'SSP2-4.5'"}], "mark": {"type": "tick", "color": "#333333", "thickness": 3.5, "size": 9, "opacity": 1},
           "encoding": {"x": {"field": "p", "type": "nominal", "title": null}, "y": {"field": "med", "type": "quantitative", "title": null}}}
         ]}
      ]
    },
    {
      "spacing": 0, "bounds": "flush",
      "vconcat": [
        {"width": 152, "height": 44, "view": {"fill": "#D9D9D9", "stroke": "#333333", "strokeWidth": 1.4},
         "data": {"name": "strips"}, "transform": [{"filter": "datum.s === 'SSP3-7.0'"}],
         "mark": {"type": "text", "fontSize": 20, "color": "#1A1A1A"}, "encoding": {"text": {"field": "s"}}},
        {"width": 152, "height": 500,
         "layer": [
          {"data": {"name": "ssp370"}, "mark": {"type": "circle", "size": 200, "opacity": 1},
           "encoding": {
            "x": {"field": "p", "type": "nominal", "title": null, "scale": {"type": "point", "domain": ["2021-2040", "2041-2060", "2061-2080", "2081-2100"], "padding": 0.6},
                  "axis": {"labelAngle": -45, "labelAlign": "right", "labelBaseline": "top", "labelFontSize": 20, "labelColor": "#4D4D4D", "labelPadding": 7, "tickColor": "#333333", "tickSize": 6, "tickWidth": 1.3, "domain": false, "grid": true, "gridColor": "#EBEBEB", "gridWidth": 1.8}},
            "xOffset": {"field": "k", "type": "quantitative", "scale": {"domain": [0, 2], "range": [-3, 3], "zero": false, "nice": false}},
            "y": {"field": "v", "type": "quantitative", "title": null, "scale": {"domain": [1256, 3464], "nice": false, "zero": false},
                  "axis": {"values": [1500, 1750, 2000, 2250, 2500, 2750, 3000, 3250], "labels": false, "ticks": false, "domain": false, "grid": true, "gridColor": "#EBEBEB", "gridWidth": {"condition": {"test": "datum.value % 500 !== 0", "value": 1}, "value": 1.8}}},
            "color": {"field": "v", "type": "quantitative", "title": "mm/ano",
                      "scale": {"domain": [1350, 3390], "range": ["#DEF5E5", "#8BDAB2", "#40B7AD", "#348FA7", "#37659E", "#413D7B", "#2E1E3B", "#0B0405"], "nice": false, "zero": false},
                      "legend": {"orient": "none", "legendX": 869, "legendY": 183, "direction": "vertical", "gradientLength": 190, "gradientThickness": 37, "values": [1500, 2000, 2500, 3000], "format": "d", "labelFontSize": 20, "labelColor": "#000000", "labelOffset": 8, "titleFontSize": 25, "titleFontWeight": "normal", "titleColor": "#000000", "titlePadding": 10, "gradientStrokeWidth": 0, "labelOverlap": false}}
           }},
          {"data": {"name": "box"}, "transform": [{"filter": "datum.s === 'SSP3-7.0'"}], "mark": {"type": "rule", "color": "#333333", "strokeWidth": 1.6},
           "encoding": {"x": {"field": "p", "type": "nominal", "title": null}, "y": {"field": "lo", "type": "quantitative", "title": null}, "y2": {"field": "q1"}}},
          {"data": {"name": "box"}, "transform": [{"filter": "datum.s === 'SSP3-7.0'"}], "mark": {"type": "rule", "color": "#333333", "strokeWidth": 1.6},
           "encoding": {"x": {"field": "p", "type": "nominal", "title": null}, "y": {"field": "q3", "type": "quantitative", "title": null}, "y2": {"field": "hi"}}},
          {"data": {"name": "box"}, "transform": [{"filter": "datum.s === 'SSP3-7.0'"}], "mark": {"type": "bar", "size": 7.5, "fill": "#FFFFFF", "fillOpacity": 0.5, "stroke": "#333333", "strokeWidth": 1.8},
           "encoding": {"x": {"field": "p", "type": "nominal", "title": null}, "y": {"field": "q1", "type": "quantitative", "title": null}, "y2": {"field": "q3"}}},
          {"data": {"name": "box"}, "transform": [{"filter": "datum.s === 'SSP3-7.0'"}], "mark": {"type": "tick", "color": "#333333", "thickness": 3.5, "size": 9, "opacity": 1},
           "encoding": {"x": {"field": "p", "type": "nominal", "title": null}, "y": {"field": "med", "type": "quantitative", "title": null}}}
         ]}
      ]
    },
    {
      "spacing": 0, "bounds": "flush",
      "vconcat": [
        {"width": 152, "height": 44, "view": {"fill": "#D9D9D9", "stroke": "#333333", "strokeWidth": 1.4},
         "data": {"name": "strips"}, "transform": [{"filter": "datum.s === 'SSP5-8.5'"}],
         "mark": {"type": "text", "fontSize": 20, "color": "#1A1A1A"}, "encoding": {"text": {"field": "s"}}},
        {"width": 152, "height": 500,
         "layer": [
          {"data": {"name": "ssp585"}, "mark": {"type": "circle", "size": 200, "opacity": 1},
           "encoding": {
            "x": {"field": "p", "type": "nominal", "title": null, "scale": {"type": "point", "domain": ["2021-2040", "2041-2060", "2061-2080", "2081-2100"], "padding": 0.6},
                  "axis": {"labelAngle": -45, "labelAlign": "right", "labelBaseline": "top", "labelFontSize": 20, "labelColor": "#4D4D4D", "labelPadding": 7, "tickColor": "#333333", "tickSize": 6, "tickWidth": 1.3, "domain": false, "grid": true, "gridColor": "#EBEBEB", "gridWidth": 1.8}},
            "xOffset": {"field": "k", "type": "quantitative", "scale": {"domain": [0, 2], "range": [-3, 3], "zero": false, "nice": false}},
            "y": {"field": "v", "type": "quantitative", "title": null, "scale": {"domain": [1256, 3464], "nice": false, "zero": false},
                  "axis": {"values": [1500, 1750, 2000, 2250, 2500, 2750, 3000, 3250], "labels": false, "ticks": false, "domain": false, "grid": true, "gridColor": "#EBEBEB", "gridWidth": {"condition": {"test": "datum.value % 500 !== 0", "value": 1}, "value": 1.8}}},
            "color": {"field": "v", "type": "quantitative", "title": "mm/ano",
                      "scale": {"domain": [1350, 3390], "range": ["#DEF5E5", "#8BDAB2", "#40B7AD", "#348FA7", "#37659E", "#413D7B", "#2E1E3B", "#0B0405"], "nice": false, "zero": false},
                      "legend": {"orient": "none", "legendX": 869, "legendY": 183, "direction": "vertical", "gradientLength": 190, "gradientThickness": 37, "values": [1500, 2000, 2500, 3000], "format": "d", "labelFontSize": 20, "labelColor": "#000000", "labelOffset": 8, "titleFontSize": 25, "titleFontWeight": "normal", "titleColor": "#000000", "titlePadding": 10, "gradientStrokeWidth": 0, "labelOverlap": false}}
           }},
          {"data": {"name": "box"}, "transform": [{"filter": "datum.s === 'SSP5-8.5'"}], "mark": {"type": "rule", "color": "#333333", "strokeWidth": 1.6},
           "encoding": {"x": {"field": "p", "type": "nominal", "title": null}, "y": {"field": "lo", "type": "quantitative", "title": null}, "y2": {"field": "q1"}}},
          {"data": {"name": "box"}, "transform": [{"filter": "datum.s === 'SSP5-8.5'"}], "mark": {"type": "rule", "color": "#333333", "strokeWidth": 1.6},
           "encoding": {"x": {"field": "p", "type": "nominal", "title": null}, "y": {"field": "q3", "type": "quantitative", "title": null}, "y2": {"field": "hi"}}},
          {"data": {"name": "box"}, "transform": [{"filter": "datum.s === 'SSP5-8.5'"}], "mark": {"type": "bar", "size": 7.5, "fill": "#FFFFFF", "fillOpacity": 0.5, "stroke": "#333333", "strokeWidth": 1.8},
           "encoding": {"x": {"field": "p", "type": "nominal", "title": null}, "y": {"field": "q1", "type": "quantitative", "title": null}, "y2": {"field": "q3"}}},
          {"data": {"name": "box"}, "transform": [{"filter": "datum.s === 'SSP5-8.5'"}], "mark": {"type": "tick", "color": "#333333", "thickness": 3.5, "size": 9, "opacity": 1},
           "encoding": {"x": {"field": "p", "type": "nominal", "title": null}, "y": {"field": "med", "type": "quantitative", "title": null}}}
         ]}
      ]
    }
      ]
    }
  ]
}
